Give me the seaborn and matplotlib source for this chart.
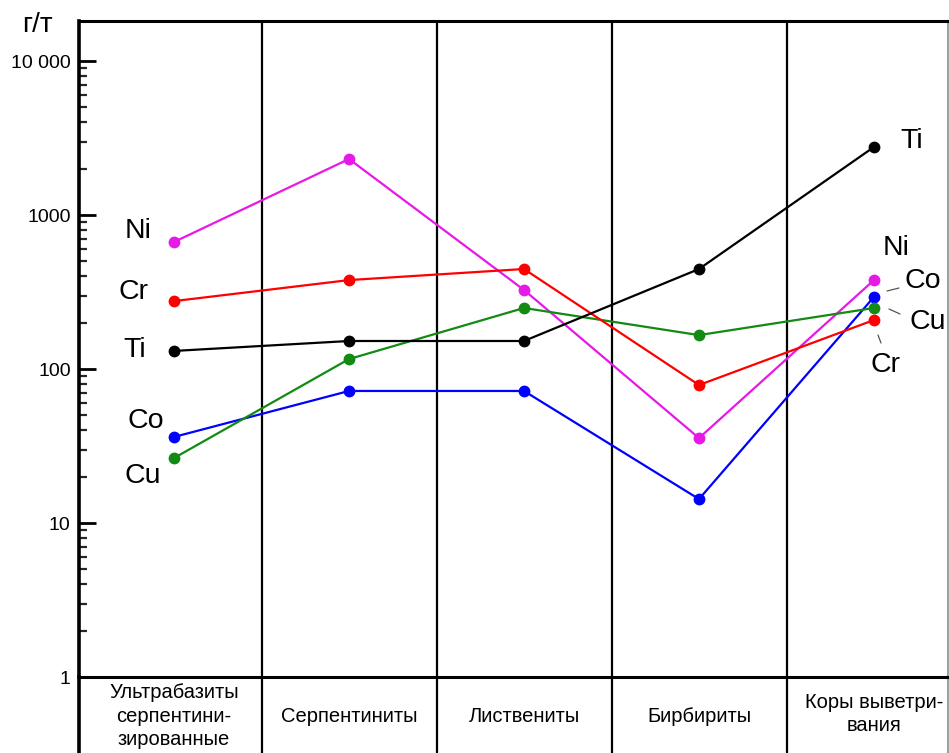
import numpy as np
import pandas as pd
import matplotlib
matplotlib.use("Agg")
import matplotlib.pyplot as plt
from matplotlib.ticker import LogLocator, FixedLocator, NullFormatter
import seaborn as sns

sns.set_style("white")
plt.rcParams['font.family'] = ['Liberation Sans', 'DejaVu Sans']
plt.rcParams['text.color'] = 'black'

# categories (rock types)
categories = ["Ультрабазиты\nсерпентини-\nзированные", "Серпентиниты",
              "Листвениты", "Бирбириты", "Коры выветри-\nвания"]

# content, g/t
ni = [668, 2310, 326, 35.6, 378]
cr = [276, 378, 446, 78.7, 208]
ti = [131, 152, 152, 446, 2766]
co = [36.2, 72, 72, 14.3, 294]
cu = [26.4, 116, 249, 166, 249]

elements = ["Ni", "Co", "Cu", "Cr", "Ti"]
values = {"Ni": ni, "Cr": cr, "Ti": ti, "Co": co, "Cu": cu}
colors = {"Ni": "#e619e6", "Cr": "#ff0000", "Ti": "#000000",
          "Co": "#0000ff", "Cu": "#138a13"}

rows = []
for el in elements:
    for i, v in enumerate(values[el]):
        rows.append({"x": i, "value": v, "element": el})
df = pd.DataFrame(rows)

fig = plt.figure(figsize=(9.49, 7.53), dpi=100)
W, H = 949, 753
axl = fig.add_axes([79 / W, 1 - 820 / H, (948 - 79) / W, (820 - 677) / H])
ax = fig.add_axes([79 / W, 1 - 677 / H, (948 - 79) / W, (677 - 21) / H])
ax.patch.set_alpha(0)

sns.lineplot(data=df, x="x", y="value", hue="element", palette=colors,
             hue_order=elements, marker="o", markersize=8.5, markeredgewidth=0,
             linewidth=1.6, legend=False, ax=ax)

ax.set_yscale("log")
ax.set_ylim(1, 10 ** ((677 - 21) / 154))
xlim = ((79 - 174) / 175, (948 - 174) / 175)
ax.set_xlim(xlim)
axl.set_xlim(xlim)

ax.yaxis.set_major_locator(FixedLocator([1, 10, 100, 1000, 10000]))
ax.set_yticklabels(["1", "10", "100", "1000", "10 000"], fontsize=14)
ax.yaxis.set_minor_locator(LogLocator(base=10, subs=np.arange(2, 10), numticks=20))
ax.yaxis.set_minor_formatter(NullFormatter())
ax.tick_params(axis="y", which="major", direction="in", length=12, width=2,
               left=True, pad=6, colors="black")
ax.tick_params(axis="y", which="minor", direction="in", length=5.5, width=1.6, left=True)
ax.tick_params(axis="x", bottom=False, labelbottom=False)
ax.set_xlabel("")
ax.set_ylabel("")

for s in ["top", "bottom"]:
    ax.spines[s].set_color("black")
    ax.spines[s].set_linewidth(2.2)
ax.spines["left"].set_color("black")
ax.spines["left"].set_linewidth(2.6)
ax.spines["right"].set_color("#a0a0a0")
ax.spines["right"].set_linewidth(1.5)

for k in range(4):
    ax.axvline(k + 0.5, color="black", lw=1.6, zorder=0)
    axl.axvline(k + 0.5, color="black", lw=1.6)

# label row
axl.set_ylim(0, 1)
axl.set_xticks([])
axl.set_yticks([])
for s in ["top", "bottom"]:
    axl.spines[s].set_visible(False)
axl.spines["left"].set_color("black")
axl.spines["left"].set_linewidth(2.6)
axl.spines["right"].set_color("#a0a0a0")
axl.spines["right"].set_linewidth(1.5)
for i, c in enumerate(categories):
    yc = 716 if c.count("\n") != 1 else 714
    axl.text(i, 1 - (yc - 677) / (820 - 677), c, ha="center", va="center",
             fontsize=14.5, linespacing=1.3, color="black")

fig.text(37 / W, 1 - 25 / H, "г/т", ha="center", va="center", fontsize=20)

# element labels
lab = dict(fontsize=20.5, ha="center", va="center", color="black")
left_pos = {"Ni": (138, 231), "Cr": (133, 292), "Ti": (135, 350),
            "Co": (146, 421), "Cu": (143, 476)}
right_pos = {"Ti": (912, 141), "Ni": (896, 248), "Co": (923, 281),
             "Cu": (928, 322), "Cr": (886, 365)}
for el, (px, py) in list(left_pos.items()) + list(right_pos.items()):
    fig.text(px / W, 1 - py / H, el, **lab)

for (x0, y0, x1, y1) in [(887, 291, 899, 288), (889, 309, 900, 314), (878, 335, 881, 343)]:
    fig.add_artist(plt.Line2D([x0 / W, x1 / W], [1 - y0 / H, 1 - y1 / H],
                              color="#555555", lw=0.9))

fig.savefig("out.png", dpi=100)
